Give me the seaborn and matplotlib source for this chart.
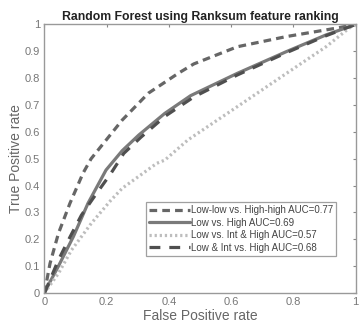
import numpy as np
import pandas as pd
import matplotlib
matplotlib.use("Agg")
import matplotlib.pyplot as plt
import seaborn as sns

# ROC curves
labels = [
    "Low-low vs. High-high AUC=0.77",
    "Low vs. High AUC=0.69",
    "Low vs. Int & High AUC=0.57",
    "Low & Int vs. High AUC=0.68",
]

fpr_llhh = [0, 0.018, 0.045, 0.082, 0.124, 0.15, 0.25, 0.334, 0.43, 0.48, 0.62, 0.778, 0.937, 1.0]
tpr_llhh = [0, 0.11, 0.222, 0.334, 0.446, 0.50, 0.644, 0.744, 0.818, 0.853, 0.917, 0.955, 0.986, 1.0]

fpr_lh = [0, 0.015, 0.045, 0.093, 0.14, 0.198, 0.25, 0.303, 0.387, 0.47, 0.62, 0.778, 0.905, 1.0]
tpr_lh = [0, 0.035, 0.10, 0.21, 0.334, 0.458, 0.53, 0.588, 0.669, 0.735, 0.818, 0.899, 0.961, 1.0]

fpr_lih = [0, 0.045, 0.087, 0.151, 0.214, 0.25, 0.361, 0.387, 0.461, 0.62, 0.778, 0.905, 0.979, 1.0]
tpr_lih = [0, 0.073, 0.16, 0.26, 0.346, 0.39, 0.483, 0.495, 0.57, 0.694, 0.818, 0.917, 0.986, 1.0]

fpr_lih2 = [0, 0.045, 0.077, 0.119, 0.156, 0.214, 0.255, 0.31, 0.39, 0.48, 0.62, 0.778, 0.905, 1.0]
tpr_lih2 = [0, 0.123, 0.197, 0.29, 0.352, 0.446, 0.52, 0.58, 0.66, 0.73, 0.812, 0.895, 0.958, 1.0]

frames = []
for lab, f, t in zip(labels, [fpr_llhh, fpr_lh, fpr_lih, fpr_lih2],
                     [tpr_llhh, tpr_lh, tpr_lih, tpr_lih2]):
    frames.append(pd.DataFrame({"fpr": f, "tpr": t, "curve": lab}))
df = pd.concat(frames, ignore_index=True)

sns.set_style("white")
plt.rcParams["font.family"] = ["Liberation Sans", "DejaVu Sans"]

palette = dict(zip(labels, ["#666666", "#7a7a7a", "#bdbdbd", "#4f4f4f"]))
dashes = dict(zip(labels, [(2.4, 1.6), "", (0.7, 0.9), (3.4, 2.8)]))

fig = plt.figure(figsize=(3.61, 3.26), dpi=100)
ax = fig.add_axes([0.123, 0.101, 0.862, 0.824])

sns.lineplot(data=df, x="fpr", y="tpr", hue="curve", style="curve",
             palette=palette, dashes=dashes, hue_order=labels, style_order=labels,
             sort=False, estimator=None, linewidth=2.3, ax=ax)

ax.set_xlim(0, 1)
ax.set_ylim(0, 1)
ax.set_xticks(np.arange(0, 1.01, 0.2))
ax.set_xticklabels(["0", "0.2", "0.4", "0.6", "0.8", "1"])
ax.set_yticks(np.arange(0, 1.01, 0.1))
ax.set_yticklabels(["0"] + ["%.1f" % v for v in np.arange(0.1, 0.95, 0.1)] + ["1"])
ax.tick_params(direction="in", length=2.5, width=0.8, color="#888888",
               labelcolor="#777777", labelsize=8, top=True, right=True, pad=3)
for s in ax.spines.values():
    s.set_color("#999999")
    s.set_linewidth(1.0)

ax.set_title("Random Forest using Ranksum feature ranking", fontsize=8.8,
             fontweight="bold", color="#222222", pad=3)
ax.set_xlabel("False Positive rate", fontsize=10, color="#666666", labelpad=1)
ax.set_ylabel("True Positive rate", fontsize=10, color="#666666", labelpad=1)

leg = ax.legend(loc="lower left", bbox_to_anchor=(0.325, 0.138), fontsize=7,
                frameon=True, fancybox=False, edgecolor="#888888",
                handlelength=4.2, handletextpad=0.1, labelspacing=0.25,
                borderpad=0.35, borderaxespad=0)
leg.get_frame().set_linewidth(0.9)
for txt in leg.get_texts():
    txt.set_color("#444444")

fig.savefig("out.png", dpi=100)
